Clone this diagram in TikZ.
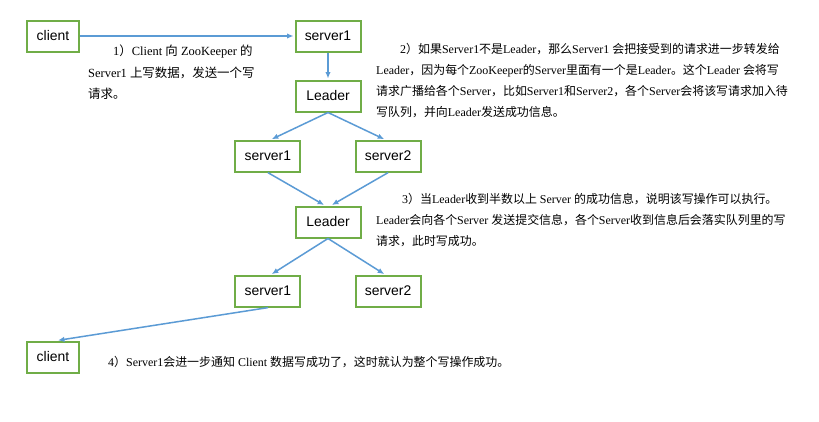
\documentclass[tikz,border=0pt]{standalone}
\usepackage{fontspec}
\setmainfont{Liberation Serif}
\setsansfont{Liberation Sans}
\newfontfamily\cjkfont{Noto Sans CJK SC}
\usetikzlibrary{arrows.meta, positioning}

\definecolor{boxgreen}{HTML}{70AD47}
\definecolor{flowblue}{HTML}{5B9BD5}

% Chinese characters in the notes go to the CJK font
\chardef\cjkclass=9
\count255="3000 \loop \XeTeXcharclass\count255=\cjkclass \advance\count255 by 1 \ifnum\count255<"3040 \repeat
\count255="4E00 \loop \XeTeXcharclass\count255=\cjkclass \advance\count255 by 1 \ifnum\count255<"A000 \repeat
\count255="FF00 \loop \XeTeXcharclass\count255=\cjkclass \advance\count255 by 1 \ifnum\count255<"FFF0 \repeat
\XeTeXinterchartoks 0 \cjkclass = {\cjkfont}
\XeTeXinterchartoks 4095 \cjkclass = {\cjkfont}
\XeTeXinterchartoks \cjkclass 0 = {\rmfamily}
\XeTeXinterchartoks \cjkclass 4095 = {\rmfamily}

\begin{document}
\begin{tikzpicture}[x=1bp, y=-1bp,
 box node/.style={draw=boxgreen, line width=2bp, minimum width=65bp,
   minimum height=31bp, inner sep=0pt, font=\sffamily\fontsize{14}{16}\selectfont},
 note node/.style={anchor=north west, inner sep=0pt, align=left,
   font={\XeTeXinterchartokenstate=1 \fontsize{12}{21}\selectfont}},
 flow/.style={draw=flowblue, line width=1.5bp, shorten >=1bp,
   -{Latex[length=6.5bp, width=5.5bp]}}]

  \path[use as bounding box, fill=white] (0,0) rectangle (819,421);

  \node[box node, minimum width=52bp] (c1) at (53,36) {client};
  \node[box node, node distance=275bp] (s1) [right of=c1] {server1};
  \node[box node, node distance=60bp] (l1) [below of=s1] {Leader};
  \node[box node, node distance=85bp] (s21) [below left of=l1] {server1};
  \node[box node, node distance=85bp] (s22) [below right of=l1] {server2};
  \node[box node, node distance=126bp] (l2) [below of=l1] {Leader};
  \node[box node, node distance=135bp] (s31) [below of=s21] {server1};
  \node[box node, node distance=135bp] (s32) [below of=s22] {server2};
  \node[box node, minimum width=52bp, node distance=321bp] (c2) [below of=c1] {client};

  \foreach \s/\t/\d in {c1.east/s1.west/0, s1.south/l1.north/0,
    l1.south/s21.north/3, l1.south/s22.north/-3,
    s21.south/l2.north/-3, s22.south/l2.north/3,
    l2.south/s31.north/3, l2.south/s32.north/-3,
    s31.south/c2.north/4} {
   \path[flow] (\s) -- ([xshift=\d bp]\t);}

  % the four steps
  \node[note node, font={\XeTeXinterchartokenstate=1 \fontsize{12.5}{21.5}\selectfont}] (n1) at (88,45)
    {\hspace*{25bp}1）Client 向 ZooKeeper 的\\
    Server1 上写数据，发送一个写\\
    请求。};
  \node[note node] (n2) at (376,43) {\hspace*{24bp}2）如果Server1不是Leader，那么Server1 会把接受到的请求进一步转发给\\
    Leader，因为每个ZooKeeper的Server里面有一个是Leader。这个Leader 会将写\\
    请求广播给各个Server，比如Server1和Server2，各个Server会将该写请求加入待\\
    写队列，并向Leader发送成功信息。};
  \node[note node] (n3) at (376,193) {\hspace*{26bp}3）当Leader收到半数以上 Server 的成功信息，说明该写操作可以执行。\\
    Leader会向各个Server 发送提交信息，各个Server收到信息后会落实队列里的写\\
    请求，此时写成功。};
  \node[note node] (n4) at (108,356) {4）Server1会进一步通知 Client 数据写成功了，这时就认为整个写操作成功。};
\end{tikzpicture}
\end{document}
